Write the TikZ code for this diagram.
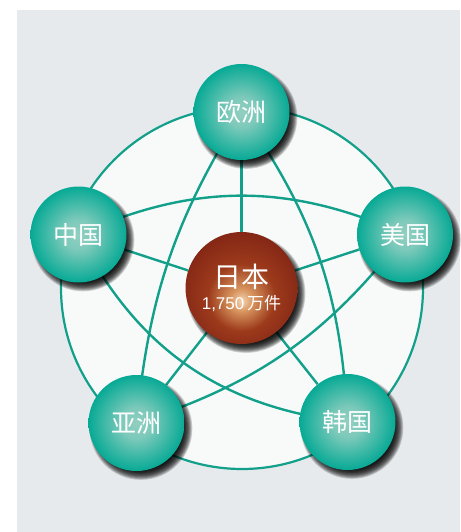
\documentclass[tikz,border=0pt]{standalone}
\usepackage{fontspec}
\setmainfont{Noto Sans CJK SC}
\newfontfamily\digitfont{Liberation Sans}
\definecolor{bggray}{HTML}{E7EAED}
\definecolor{disc}{HTML}{F8FAFA}
\definecolor{teal1}{HTML}{12A08A}
\definecolor{ballout}{HTML}{00A893}
\definecolor{ballin}{HTML}{92CFC1}
\definecolor{jpout}{HTML}{520C0A}
\definecolor{jpdeep}{HTML}{681410}
\definecolor{jpdark}{HTML}{802315}
\definecolor{jpmid}{HTML}{9C3A1B}
\definecolor{jplight}{HTML}{D8955F}
\definecolor{jpin}{HTML}{F3D5B5}
\pgfdeclareradialshading{tealball}{\pgfpoint{0bp}{0bp}}{color(0bp)=(ballin); color(8bp)=(ballin!85!ballout); color(26bp)=(ballout); color(50bp)=(ballout)}
\pgfdeclareradialshading{jpball}{\pgfpoint{0bp}{-6bp}}{color(0bp)=(jpin); color(5bp)=(jplight); color(15bp)=(jpmid); color(30bp)=(jpdark); color(42bp)=(jpdeep); color(50bp)=(jpout)}
\pgfdeclarelayer{back}
\pgfdeclarelayer{mid}
\pgfdeclarelayer{shade}
\pgfsetlayers{back,mid,shade,main}
\tikzset{
  region/.style={circle, minimum size=96pt, inner sep=0pt, shading=tealball, text=white, font=\fontsize{25}{25}\selectfont},
  hub/.style={circle, minimum size=112pt, inner sep=0pt, shading=jpball, text=white, align=center},
  link/.style={draw=teal1, line width=2.4pt},
  rim/.style={draw=teal1, line width=2.2pt, fill=disc},
  shadowdisc/.style={fill=black, opacity=0.17},
}
\begin{document}
\begin{tikzpicture}[x=1pt,y=-1pt]
\useasboundingbox (0,0) rectangle (460,532);
\begin{pgfonlayer}{back}
  \fill[bggray] (17,10) rectangle (460,532);
  \coordinate (hubc) at (242,288);
  \draw[rim] (hubc) circle[radius=181];
\end{pgfonlayer}

\node[region] (eu) at (241.5,112) {欧洲};
\node[region] (cn) at (78.5,234.5) {中国};
\node[region] (us) at (405,234.5) {美国};
\node[region] (asia) at (136.5,423) {亚洲};
\node[region] (kr) at (347.5,422) {韩国};
\node[hub] (jp) at (241.5,288) {\fontsize{28}{28}\selectfont 日本\\[5pt]\fontsize{17}{17}\selectfont {\digitfont 1,750}\,万件};

\begin{pgfonlayer}{mid}
  \draw[link] (jp) -- (eu);
  \draw[link] (jp) -- (cn);
  \draw[link] (jp) -- (us);
  \draw[link] (jp) -- (asia);
  \draw[link] (jp) -- (kr);
  \draw[link] (eu.center) to[bend left=16] (kr.center);
  \draw[link] (kr.center) to[bend left=28] (cn.center);
  \draw[link] (cn.center) to[bend left=24] (us.center);
  \draw[link] (us.center) to[bend left=17] (asia.center);
  \draw[link] (asia.center) to[bend left=13] (eu.center);
\end{pgfonlayer}

\begin{pgfonlayer}{shade}
  \foreach \n/\r in {eu/48,cn/48,us/48,asia/48,kr/48,jp/56} {
    \foreach \k in {0,...,11} {
      \fill[shadowdisc] ([shift={(4.5,5.5)}]\n.center) circle[radius=\r-6+\k*0.85];
    }
  }
\end{pgfonlayer}
\end{tikzpicture}
\end{document}
